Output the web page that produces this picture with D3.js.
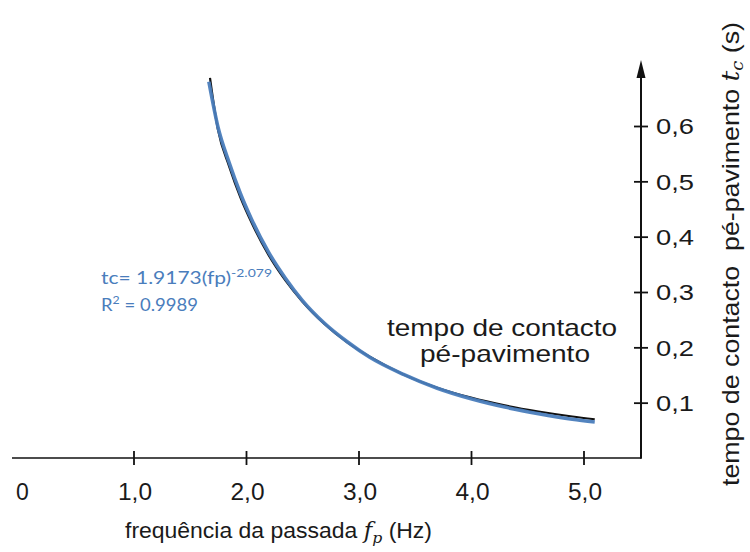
<!DOCTYPE html>
<html>
<head>
<meta charset="utf-8">
<script src="https://cdn.jsdelivr.net/npm/d3@7"></script>
<style>
  html, body { margin: 0; padding: 0; background: #fff; }
  svg { display: block; }
  text { font-family: "Liberation Sans", Arial, sans-serif; fill: #1a1a1a; }
</style>
</head>
<body>
<svg id="chart" width="750" height="552"></svg>
<script>
// Step frequency fp (Hz) and measured foot-ground contact time tc (s)
const fpMeasured = [1.68, 1.75, 1.85, 1.95, 2.05, 2.2, 2.35, 2.5, 2.7, 2.9, 3.1, 3.4, 3.7, 4.0, 4.3, 4.6, 4.9, 5.1];
const tcMeasured = [0.687, 0.594, 0.527, 0.471, 0.425, 0.367, 0.321, 0.283, 0.242, 0.209, 0.183, 0.151, 0.127, 0.109, 0.095, 0.084, 0.075, 0.070];

// Power-law trend line tc = 1.9173 (fp)^-2.079, tabulated
const fpTrend = [1.67, 1.75, 1.85, 1.95, 2.05, 2.2, 2.35, 2.5, 2.7, 2.9, 3.1, 3.4, 3.7, 4.0, 4.3, 4.6, 4.9, 5.1];
const tcTrend = [0.680, 0.599, 0.534, 0.478, 0.431, 0.372, 0.325, 0.285, 0.243, 0.210, 0.182, 0.151, 0.126, 0.107, 0.092, 0.080, 0.070, 0.065];

// Axis ticks
const xTicks = [0, 1, 2, 3, 4, 5];
const xTickLabels = ["0", "1,0", "2,0", "3,0", "4,0", "5,0"];
const yTicks = [0.1, 0.2, 0.3, 0.4, 0.5, 0.6];
const yTickLabels = ["0,1", "0,2", "0,3", "0,4", "0,5", "0,6"];

const svg = d3.select("#chart");

const x = d3.scaleLinear().domain([0, 5]).range([21, 583.5]);
const y = d3.scaleLinear().domain([0, 0.6]).range([458, 126]);

const axisX = 641;            // vertical axis sits on the right
const axisY = y(0);

// ---- horizontal axis ----
svg.append("line")
  .attr("x1", 12).attr("x2", axisX)
  .attr("y1", axisY).attr("y2", axisY)
  .attr("stroke", "#111").attr("stroke-width", 1.6);

const xAxis = d3.axisBottom(x)
  .tickValues(xTicks)
  .tickFormat((d, i) => xTickLabels[i])
  .tickSize(7);
const xa = svg.append("g").attr("transform", `translate(0,${axisY})`).call(xAxis);
xa.select(".domain").remove();
xa.selectAll(".tick line")
  .attr("y1", -7).attr("y2", 7)
  .attr("stroke", "#111").attr("stroke-width", 1.8)
  .style("display", d => d === 0 ? "none" : null);
xa.selectAll(".tick text")
  .attr("y", 0).attr("dy", null)
  .attr("transform", "translate(1,42)")
  .attr("font-size", 23)
  .attr("font-family", "Liberation Sans, Arial, sans-serif")
  .attr("fill", "#1a1a1a")
  .attr("textLength", d => d === 0 ? null : 34)
  .attr("lengthAdjust", "spacingAndGlyphs");

// ---- vertical axis (right side, with arrow) ----
svg.append("line")
  .attr("x1", axisX).attr("x2", axisX)
  .attr("y1", axisY + 0.8).attr("y2", 72)
  .attr("stroke", "#111").attr("stroke-width", 2);
svg.append("path")
  .attr("d", `M${axisX},60 L${axisX - 4.5},78 L${axisX + 4.5},78 Z`)
  .attr("fill", "#111");

const yAxis = d3.axisRight(y)
  .tickValues(yTicks)
  .tickFormat((d, i) => yTickLabels[i])
  .tickSize(7);
const ya = svg.append("g").attr("transform", `translate(${axisX},0)`).call(yAxis);
ya.select(".domain").remove();
ya.selectAll(".tick line")
  .attr("x1", -7).attr("x2", 7)
  .attr("stroke", "#111").attr("stroke-width", 1.8);
ya.selectAll(".tick text")
  .attr("x", 15)
  .attr("dy", "0.36em")
  .attr("font-size", 22)
  .attr("font-family", "Liberation Sans, Arial, sans-serif")
  .attr("fill", "#1a1a1a")
  .attr("textLength", 38)
  .attr("lengthAdjust", "spacingAndGlyphs");

// ---- curves ----
const line = d3.line()
  .x(d => x(d[0]))
  .y(d => y(d[1]))
  .curve(d3.curveMonotoneX);

svg.append("path")
  .datum(fpMeasured.map((f, i) => [f, tcMeasured[i]]))
  .attr("d", line)
  .attr("fill", "none")
  .attr("stroke", "#111")
  .attr("stroke-width", 2.2);

svg.append("path")
  .datum(fpTrend.map((f, i) => [f, tcTrend[i]]))
  .attr("d", line)
  .attr("fill", "none")
  .attr("stroke", "#4a7dbc")
  .attr("stroke-width", 3.6)
  .attr("stroke-opacity", 0.95);

// ---- trend line equation ----
const eqFont = "Lato, 'Open Sans', sans-serif";
const eq1 = svg.append("text").attr("x", 101).attr("y", 284)
  .attr("font-size", 18).style("fill", "#4a7dbc").style("font-family", eqFont)
  .attr("textLength", 171).attr("lengthAdjust", "spacingAndGlyphs");
eq1.append("tspan").text("tc= 1.9173(fp)");
eq1.append("tspan").attr("dy", -7).attr("font-size", 12).text("-2.079");
const eq2 = svg.append("text").attr("x", 101).attr("y", 311)
  .attr("font-size", 18).style("fill", "#4a7dbc").style("font-family", eqFont)
  .attr("textLength", 97).attr("lengthAdjust", "spacingAndGlyphs");
eq2.append("tspan").text("R");
eq2.append("tspan").attr("dy", -7).attr("font-size", 12).text("2");
eq2.append("tspan").attr("dy", 7).text(" = 0.9989");

// ---- curve annotation ----
const note = svg.append("g").attr("font-size", 24);
note.append("text").attr("x", 502).attr("y", 336)
  .attr("text-anchor", "middle")
  .attr("textLength", 230).attr("lengthAdjust", "spacingAndGlyphs")
  .text("tempo de contacto");
note.append("text").attr("x", 505).attr("y", 362)
  .attr("text-anchor", "middle")
  .attr("textLength", 170).attr("lengthAdjust", "spacingAndGlyphs")
  .text("pé-pavimento");

// ---- axis titles ----
const xt = svg.append("text")
  .attr("x", 125).attr("y", 538)
  .attr("font-size", 22)
  .attr("textLength", 307).attr("lengthAdjust", "spacingAndGlyphs");
xt.append("tspan").text("frequência da passada ");
xt.append("tspan").attr("font-family", "DejaVu Serif, serif").attr("font-style", "italic").text("f");
xt.append("tspan").attr("font-family", "DejaVu Serif, serif").attr("font-style", "italic")
  .attr("font-size", 15).attr("dy", 5).text("p");
xt.append("tspan").attr("dy", -5).text(" (Hz)");

const yt = svg.append("text")
  .attr("transform", "translate(739,486) rotate(-90)")
  .attr("font-size", 24)
  .attr("textLength", 464).attr("lengthAdjust", "spacingAndGlyphs");
yt.append("tspan").text("tempo de contacto\u00a0\u00a0pé-pavimento ");
yt.append("tspan").attr("font-family", "DejaVu Serif, serif").attr("font-style", "italic").text("t");
yt.append("tspan").attr("font-family", "DejaVu Serif, serif").attr("font-style", "italic")
  .attr("font-size", 16).attr("dy", 4).text("c");
yt.append("tspan").attr("dy", -4).text(" (s)");
</script>
</body>
</html>
